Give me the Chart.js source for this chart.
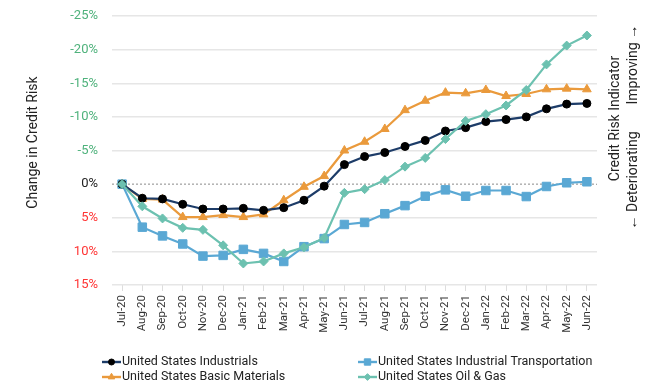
<!DOCTYPE html>
<html>
<head>
<meta charset="utf-8">
<script src="https://cdn.jsdelivr.net/npm/chart.js@4.4.0/dist/chart.umd.min.js"></script>
<style>
html,body{margin:0;padding:0;background:#fff;}
</style>
</head>
<body>
<canvas id="chart" width="648" height="383"></canvas>
<script>
var meses = ['Jul-20','Aug-20','Sep-20','Oct-20','Nov-20','Dec-20','Jan-21','Feb-21','Mar-21','Apr-21','May-21','Jun-21',
             'Jul-21','Aug-21','Sep-21','Oct-21','Nov-21','Dec-21','Jan-22','Feb-22','Mar-22','Apr-22','May-22','Jun-22'];

// cambio en riesgo de credito (%), positivo = deterioro
var industrials     = [0, 2.1, 2.2, 3.0, 3.7, 3.7, 3.6, 3.9, 3.5, 2.4, 0.3, -2.9, -4.1, -4.7, -5.6, -6.5, -7.9, -8.4, -9.3, -9.6, -10.0, -11.2, -11.9, -12.0];
var transportation  = [0, 6.4, 7.7, 8.9, 10.7, 10.6, 9.7, 10.3, 11.5, 9.3, 8.1, 6.0, 5.7, 4.4, 3.2, 1.8, 0.85, 1.8, 0.95, 0.95, 1.85, 0.35, -0.2, -0.35];
var basicMaterials  = [0, 2.2, 2.3, 4.9, 4.9, 4.6, 4.9, 4.5, 2.4, 0.4, -1.2, -5.0, -6.3, -8.2, -11.0, -12.4, -13.6, -13.5, -14.0, -13.1, -13.4, -14.1, -14.2, -14.1];
var oilGas          = [0, 3.3, 5.1, 6.5, 6.8, 9.1, 11.8, 11.5, 10.3, 9.4, 8.0, 1.3, 0.75, -0.6, -2.6, -3.9, -6.7, -9.4, -10.4, -11.7, -14.0, -17.8, -20.6, -22.1];

var nombres = ['United States Industrials','United States Industrial Transportation','United States Basic Materials','United States Oil & Gas'];
var ejeMin = -25;
var ejeMax = 15;
var paso = 5;

var fuente = 'Roboto, "Liberation Sans", sans-serif';

function serie(label, data, color, puntoColor, estilo, radio, orden){
	return {
		label: label,
		data: data,
		borderColor: color,
		backgroundColor: puntoColor,
		pointBackgroundColor: puntoColor,
		pointBorderColor: puntoColor,
		pointStyle: estilo,
		pointRadius: radio,
		pointBorderWidth: 1,
		borderWidth: 2.2,
		tension: 0,
		order: orden
	};
}

// titulos laterales, linea de cero y leyenda a dos columnas
var extras = {
	id: 'extras',
	beforeDatasetsDraw: function(chart){
		var ctx = chart.ctx;
		var area = chart.chartArea;
		var y0 = chart.scales.y.getPixelForValue(0);
		ctx.save();
		ctx.strokeStyle = '#8a8a8a';
		ctx.lineWidth = 1;
		ctx.setLineDash([2, 2]);
		ctx.beginPath();
		ctx.moveTo(area.left, y0);
		ctx.lineTo(area.right, y0);
		ctx.stroke();
		ctx.restore();
	},
	afterDraw: function(chart){
		var ctx = chart.ctx;
		var area = chart.chartArea;
		var medio = (area.top + area.bottom) / 2;

		ctx.save();
		ctx.fillStyle = '#222';
		ctx.font = '14px ' + fuente;
		ctx.textBaseline = 'middle';

		// eje izquierdo
		ctx.save();
		ctx.translate(area.left - 79, medio - 8);
		ctx.rotate(-Math.PI / 2);
		ctx.textAlign = 'center';
		ctx.fillText('Change in Credit Risk', 0, 0);
		ctx.restore();

		// eje derecho
		ctx.save();
		ctx.translate(area.right + 18, medio - 32);
		ctx.rotate(-Math.PI / 2);
		ctx.textAlign = 'center';
		ctx.fillText('Credit Risk Indicator', 0, 0);
		ctx.restore();

		ctx.save();
		ctx.translate(area.right + 36, medio - 32);
		ctx.rotate(-Math.PI / 2);
		ctx.textAlign = 'right';
		ctx.fillText('\u2190 Deteriorating', -13, 0);
		ctx.textAlign = 'left';
		ctx.fillText('Improving \u2192', 14, 0);
		ctx.restore();

		// leyenda
		var datasets = chart.data.datasets;
		var x0 = area.left - 10;
		var colAncho = 256;
		var filas = [chart.height - 21, chart.height - 6];
		ctx.font = '12.5px ' + fuente;
		ctx.textAlign = 'left';
		for (var i = 0; i < datasets.length; i++) {
			var ds = datasets[i];
			var x = x0 + (i % 2) * colAncho;
			var y = filas[Math.floor(i / 2)];
			ctx.strokeStyle = ds.borderColor;
			ctx.lineWidth = 2.4;
			ctx.beginPath();
			ctx.moveTo(x, y);
			ctx.lineTo(x + 19, y);
			ctx.stroke();
			ctx.fillStyle = ds.pointBackgroundColor;
			ctx.strokeStyle = ds.pointBorderColor;
			ctx.lineWidth = 1;
			Chart.helpers.drawPoint(ctx, {pointStyle: ds.pointStyle, radius: ds.pointRadius * 0.75, rotation: 0, borderWidth: 1}, x + 9.5, y);
			ctx.fillStyle = '#222';
			ctx.fillText(ds.label, x + 20, y);
		}
		ctx.restore();
	}
};

function init(){
	var datos = {
		type: 'line',
		data: {
			labels: meses,
			datasets: [
				serie(nombres[0], industrials, '#1d3c68', '#000000', 'circle', 4, 1),
				serie(nombres[1], transportation, '#5aa8d4', '#5aa8d4', 'rect', 6, 2),
				serie(nombres[2], basicMaterials, '#ea9a3c', '#ea9a3c', 'triangle', 5, 3),
				serie(nombres[3], oilGas, '#6cc1b0', '#6cc1b0', 'rectRot', 4.5, 0)
			]
		},
		options: {
			responsive: false,
			animation: false,
			layout: { padding: { left: 0, right: 51, top: 0, bottom: 0 } },
			plugins: {
				legend: { display: false },
				tooltip: { enabled: false }
			},
			scales: {
				x: {
					offset: true,
					grid: { drawOnChartArea: false, drawTicks: true, tickLength: 6, color: '#dddddd' },
					border: { display: false },
					ticks: {
						minRotation: 90,
						maxRotation: 90,
						padding: 4,
						color: '#333',
						font: { family: fuente, size: 11.5 }
					},
					afterFit: function(scale){ scale.height = 98; }
				},
				y: {
					reverse: true,
					min: ejeMin,
					max: ejeMax,
					border: { display: false },
					grid: {
						drawTicks: false,
						lineWidth: 1.5,
						color: function(c){ return c.tick && c.tick.value === 0 ? 'rgba(0,0,0,0)' : '#e6e6e6'; }
					},
					ticks: {
						stepSize: paso,
						padding: 14,
						font: { family: fuente, size: 13 },
						color: function(c){
							if (c.tick.value < 0) return '#4fb27c';
							if (c.tick.value > 0) return '#ff3535';
							return '#222';
						},
						callback: function(v){ return v + '%'; }
					},
					afterFit: function(scale){
						scale.width = 112;
						scale.paddingTop = 16;
					}
				}
			}
		},
		plugins: [extras]
	};
	var canvas = document.getElementById('chart').getContext('2d');
	window.grafico = new Chart(canvas, datos);
}

init();
</script>
</body>
</html>
